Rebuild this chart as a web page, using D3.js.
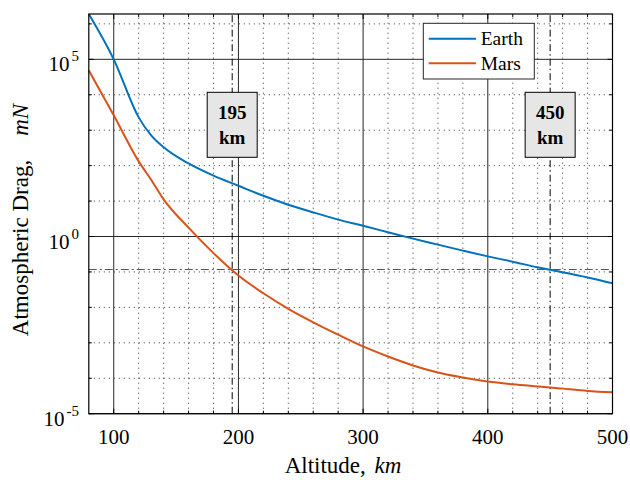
<!DOCTYPE html>
<html>
<head>
<meta charset="utf-8">
<script src="https://cdn.jsdelivr.net/npm/d3@7"></script>
<style>
  body { margin: 0; background: #fff; }
  text { font-family: "Liberation Serif", "Times New Roman", serif; fill: #000; }
</style>
</head>
<body>
<script>
var width = 630,
  height = 480;

// altitude in km, drag in mN
var altitude = [80, 100, 120, 130, 140, 160, 180, 200, 220, 240, 260, 280, 300, 320, 340, 360, 380, 400, 420, 440, 450, 460, 480, 500];
var earthDrag = [1.9e6, 1.0e5, 2.3e3, 710, 330, 115, 52, 27, 14.1, 7.9, 4.8, 3.0, 2.0, 1.32, 0.87, 0.59, 0.40, 0.275, 0.195, 0.135, 0.115, 0.098, 0.070, 0.048];
var marsDrag = [4.9e4, 2630, 132, 40, 11.2, 1.78, 0.34, 0.079, 0.025, 0.0091, 0.0038, 0.0017, 7.9e-4, 4.1e-4, 2.3e-4, 1.45e-4, 1.05e-4, 8.1e-5, 6.8e-5, 5.9e-5, 5.5e-5, 5.1e-5, 4.4e-5, 4.0e-5];

var seriesNames = ["Earth", "Mars"];
var seriesColors = ["#0072BD", "#D95319"];

var xTicks = [100, 200, 300, 400, 500];
var yTicks = [1e-5, 1e0, 1e5];
var yTickExp = ["-5", "0", "5"];

var markAltitudes = [195, 450];
var markLevel = 0.117;

var margin = {left: 88.8, right: 630 - 612.5, top: 14, bottom: 480 - 413.7};

var scaleX = d3.scaleLinear()
                .domain([80, 500])
                .range([margin.left, width - margin.right]);

var scaleY = d3.scaleLog()
                .domain([1e-5, d3.max(earthDrag)])
                .range([height - margin.bottom, margin.top]);

var svg = d3.select("body").append("svg")
            .attr("width", width)
            .attr("height", height);

svg.append("rect").attr("width", width).attr("height", height).attr("fill", "#fff");

var x0 = scaleX.range()[0], x1 = scaleX.range()[1];
var y0 = scaleY.range()[0], y1 = scaleY.range()[1];

// minor grid
var minorX = d3.range(120, 500, 20).filter(function(d) { return d % 100 != 0; });
var minorY = [1e6, 1e4, 1e3, 1e2, 1e1, 1e-1, 1e-2, 1e-3, 1e-4];

svg.selectAll(".minorx").data(minorX).enter().append("line")
    .attr("x1", function(d) { return scaleX(d); })
    .attr("x2", function(d) { return scaleX(d); })
    .attr("y1", y0).attr("y2", y1)
    .style("stroke", "#333").style("stroke-width", 1)
    .style("stroke-dasharray", "1,4");

svg.selectAll(".minory").data(minorY).enter().append("line")
    .attr("x1", x0).attr("x2", x1)
    .attr("y1", function(d) { return scaleY(d); })
    .attr("y2", function(d) { return scaleY(d); })
    .style("stroke", "#333").style("stroke-width", 1)
    .style("stroke-dasharray", "1,4");

// major grid
svg.selectAll(".majorx").data(xTicks).enter().append("line")
    .attr("x1", function(d) { return scaleX(d); })
    .attr("x2", function(d) { return scaleX(d); })
    .attr("y1", y0).attr("y2", y1)
    .style("stroke", "#262626").style("stroke-width", 1);

svg.selectAll(".majory").data(yTicks).enter().append("line")
    .attr("x1", x0).attr("x2", x1)
    .attr("y1", function(d) { return scaleY(d); })
    .attr("y2", function(d) { return scaleY(d); })
    .style("stroke", "#262626").style("stroke-width", 1);

// reference lines
svg.append("line")
    .attr("x1", x0).attr("x2", x1)
    .attr("y1", scaleY(markLevel)).attr("y2", scaleY(markLevel))
    .style("stroke", "#555").style("stroke-width", 1)
    .style("stroke-dasharray", "8,3,2,3");

svg.selectAll(".markx").data(markAltitudes).enter().append("line")
    .attr("x1", function(d) { return scaleX(d); })
    .attr("x2", function(d) { return scaleX(d); })
    .attr("y1", y0).attr("y2", y1)
    .style("stroke", "#000").style("stroke-width", 1)
    .style("stroke-dasharray", "7,3,1.5,3");

// curves
var line = d3.line()
    .curve(d3.curveMonotoneX)
    .x(function(d) { return scaleX(d[0]); })
    .y(function(d) { return scaleY(d[1]); });

[earthDrag, marsDrag].forEach(function(vals, i) {
  svg.append("path")
      .datum(d3.zip(altitude, vals))
      .attr("d", line)
      .attr("fill", "none")
      .style("stroke", seriesColors[i])
      .style("stroke-width", 2)
      .style("stroke-linejoin", "round");
});

// axes box and ticks
var ticksX = xTicks.concat(minorX);
svg.selectAll(".tb").data(ticksX).enter().append("line")
    .attr("x1", function(d) { return scaleX(d); })
    .attr("x2", function(d) { return scaleX(d); })
    .attr("y1", y0).attr("y2", function(d) { return y0 - (d % 100 == 0 ? 5 : 3); })
    .style("stroke", "#000");
svg.selectAll(".tt").data(ticksX).enter().append("line")
    .attr("x1", function(d) { return scaleX(d); })
    .attr("x2", function(d) { return scaleX(d); })
    .attr("y1", y1).attr("y2", function(d) { return y1 + (d % 100 == 0 ? 5 : 3); })
    .style("stroke", "#000");
var ticksY = yTicks.concat(minorY);
svg.selectAll(".tl").data(ticksY).enter().append("line")
    .attr("x1", x0).attr("x2", function(d) { return x0 + (yTicks.indexOf(d) >= 0 ? 5 : 3); })
    .attr("y1", function(d) { return scaleY(d); })
    .attr("y2", function(d) { return scaleY(d); })
    .style("stroke", "#000");
svg.selectAll(".tr").data(ticksY).enter().append("line")
    .attr("x1", x1).attr("x2", function(d) { return x1 - (yTicks.indexOf(d) >= 0 ? 5 : 3); })
    .attr("y1", function(d) { return scaleY(d); })
    .attr("y2", function(d) { return scaleY(d); })
    .style("stroke", "#000");

svg.append("rect")
    .attr("x", x0).attr("y", y1)
    .attr("width", x1 - x0).attr("height", y0 - y1)
    .attr("fill", "none")
    .style("stroke", "#000").style("stroke-width", 1.2);

// tick labels
svg.selectAll(".xl").data(xTicks).enter().append("text")
    .attr("x", function(d) { return scaleX(d); })
    .attr("y", 444)
    .attr("text-anchor", "middle")
    .style("font-size", "21px")
    .text(function(d) { return d; });

var yl = svg.selectAll(".yl").data(yTicks).enter().append("text")
    .attr("x", 79)
    .attr("y", function(d) { return scaleY(d) + 12; })
    .attr("text-anchor", "end")
    .style("font-size", "21px");
yl.append("tspan").text("10");
yl.append("tspan")
    .attr("dx", 2)
    .attr("dy", -10)
    .style("font-size", "15px")
    .text(function(d, i) { return yTickExp[i]; });

// axis labels
var xlab = svg.append("text")
    .attr("x", 343).attr("y", 473)
    .attr("text-anchor", "middle")
    .style("font-size", "23px");
xlab.append("tspan").text("Altitude, ");
xlab.append("tspan").attr("dx", 3).style("font-style", "italic").text("km");

var ylab = svg.append("text")
    .attr("transform", "translate(28,220) rotate(-90)")
    .attr("text-anchor", "middle")
    .style("font-size", "23px");
ylab.append("tspan").text("Atmospheric Drag,");
ylab.append("tspan").attr("dx", 24).style("font-style", "italic").text("mN");

// legend
var legend = svg.append("g");
legend.append("rect")
    .attr("x", 423.3).attr("y", 23.3)
    .attr("width", 111).attr("height", 55.7)
    .attr("fill", "#fff")
    .style("stroke", "#262626").style("stroke-width", 1);
seriesNames.forEach(function(name, i) {
  var ly = 38.7 + i * 24.6;
  legend.append("line")
      .attr("x1", 428.7).attr("x2", 476)
      .attr("y1", ly).attr("y2", ly)
      .style("stroke", seriesColors[i]).style("stroke-width", 2);
  legend.append("text")
      .attr("x", 480.7).attr("y", ly + 6.5)
      .style("font-size", "19.5px")
      .text(name);
});

// altitude boxes
var boxes = svg.selectAll(".box").data(markAltitudes).enter().append("g");
boxes.append("rect")
    .attr("x", function(d) { return scaleX(d) - 25; })
    .attr("y", 92.3)
    .attr("width", 50).attr("height", 65)
    .attr("fill", "#e6e6e6")
    .style("stroke", "#000").style("stroke-width", 1);
boxes.append("text")
    .attr("x", function(d) { return scaleX(d); })
    .attr("y", 119)
    .attr("text-anchor", "middle")
    .style("font-size", "19px").style("font-weight", "bold")
    .text(function(d) { return d; });
boxes.append("text")
    .attr("x", function(d) { return scaleX(d); })
    .attr("y", 144)
    .attr("text-anchor", "middle")
    .style("font-size", "19px").style("font-weight", "bold")
    .text("km");
</script>
</body>
</html>
